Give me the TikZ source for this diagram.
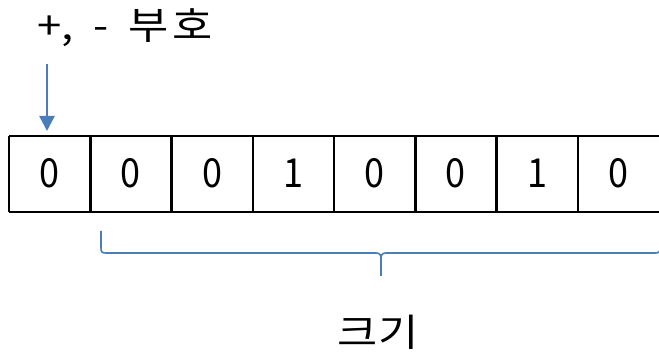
\documentclass[tikz,border=0pt]{standalone}
\usepackage{fontspec}
\newfontfamily\kr{Noto Sans CJK KR}
\usetikzlibrary{arrows.meta}
\definecolor{acc}{HTML}{4A7EBB}
\tikzset{
  bit/.style={font=\kr\fontsize{40}{44}\selectfont, inner sep=0pt, anchor=center, xscale=0.9, transform shape},
  lbl/.style={font=\kr\fontsize{38}{42}\selectfont, inner sep=0pt, xscale=1.15, transform shape},
  cellline/.style={line width=2.5pt, black},
  arr/.style={line width=2.5pt, acc, -{Triangle[width=15pt,length=15pt]}},
  brc/.style={line width=1.6pt, acc}
}
\begin{document}
\begin{tikzpicture}[x=1pt,y=1pt]
\useasboundingbox (0,0) rectangle (659,-355);
\clip (0,0) rectangle (659,-355);
% cell grid
\draw[cellline] (9,-136) -- (680,-136);
\draw[cellline] (9,-212) -- (680,-212);
\foreach \i in {0,...,7} {
  \draw[cellline] ({9+81.25*\i},-136) -- ({9+81.25*\i},-212);
}
% bits
\foreach \i/\b in {0/0,1/0,2/0,3/1,4/0,5/0,6/1,7/0} {
  \node[bit] (c\i) at ({9+81.25*\i+40.6},-173) {\b};
}
\coordinate (c0top) at (47,-136);
% sign label
\node[lbl] (sign) at (125,-28) {+,\hspace{0.45em}-\hspace{0.45em}부\hspace{0.1em}호};
\coordinate (arrstart) at (47,-64);
\draw[arr, shorten >=5pt] (arrstart) -- (c0top);
% brace
\coordinate (bl) at (101,-231);
\coordinate (bt) at (381,-276);
\coordinate (br) at (660,-240);
\draw[brc] (bl) -- (101,-248) .. controls (101,-252) and (102,-253) .. (106,-253)
  -- (376,-253) .. controls (380,-253) and (381,-255) .. (381,-259) -- (bt);
\draw[brc] (381,-259) .. controls (381,-255) and (382,-253) .. (386,-253)
  -- (655,-253) .. controls (659,-253) and (660,-252) .. (660,-248) -- (br);
% size label
\node[lbl] (size) at (378,-332) {크기};
\end{tikzpicture}
\end{document}
